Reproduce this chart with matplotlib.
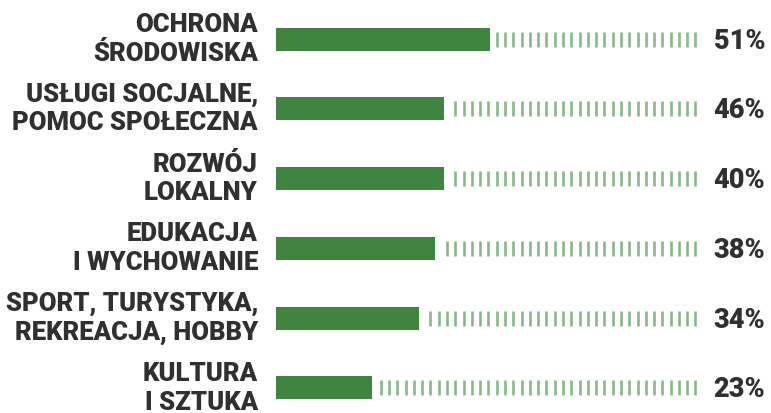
import numpy as np
import matplotlib
matplotlib.use("Agg")
import matplotlib.pyplot as plt

categories = ["OCHRONA\nŚRODOWISKA",
              "USŁUGI SOCJALNE,\nPOMOC SPOŁECZNA",
              "ROZWÓJ\nLOKALNY",
              "EDUKACJA\nI WYCHOWANIE",
              "SPORT, TURYSTYKA,\nREKREACJA, HOBBY",
              "KULTURA\nI SZTUKA"]
# bar lengths as drawn in the picture (the 46% row is drawn at 40)
bar_values = [51, 40, 40, 38, 34, 23]
pct_labels = ["51%", "46%", "40%", "38%", "34%", "23%"]

green = "#3f843f"
light_green = "#88b988"
text_col = "#303030"

plt.rcParams['font.family'] = ['Roboto', 'DejaVu Sans']

fig = plt.figure(figsize=(7.71, 4.13), dpi=100)
ax = fig.add_axes([0, 0, 1, 1])
ax.set_xlim(-65.8, 118.0)
ax.set_ylim(5.36, -0.56)
ax.axis("off")

y = np.arange(len(categories))
ax.barh(y, bar_values, height=0.33, color=green)

# striped remainder up to 100%
step = 1.975
for i, v in enumerate(bar_values):
    xs = np.arange(100, v + 1.2, -step)
    ax.vlines(xs, i - 0.108, i + 0.108, color=light_green, linewidth=1.9)

# two-line labels, each line placed on its own baseline
for i, (cat, lab) in enumerate(zip(categories, pct_labels)):
    top, bottom = cat.split("\n")
    ax.text(-4.3, i - 0.10, top, ha="right", va="baseline", fontsize=18.5,
            fontweight="black", color=text_col)
    ax.text(-4.3, i + 0.31, bottom, ha="right", va="baseline", fontsize=18.5,
            fontweight="black", color=text_col)
    ax.text(104.3, i + 0.03, lab, ha="left", va="center", fontsize=19.5,
            fontweight="black", color=text_col)

fig.savefig("out.png", dpi=100)
